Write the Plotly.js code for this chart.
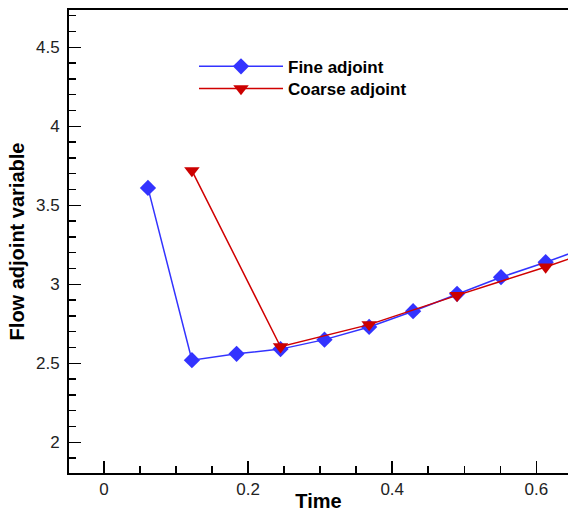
<!DOCTYPE html>
<html>
<head>
<meta charset="utf-8">
<script src="https://cdn.plot.ly/plotly-3.0.1.min.js"></script>
<style>
  html, body { margin: 0; padding: 0; background: #fff; }
  #chart { width: 568px; height: 512px; }
</style>
</head>
<body>
<div id="chart"></div>
<script>
// Time levels and adjoint values for each grid
const fineTime = [0.061, 0.122, 0.184, 0.245, 0.306, 0.368, 0.429, 0.490, 0.551, 0.613, 0.674];
const fineAdjoint = [3.61, 2.52, 2.56, 2.59, 2.65, 2.73, 2.83, 2.94, 3.045, 3.14, 3.24];

const coarseTime = [0.122, 0.245, 0.368, 0.490, 0.613, 0.735];
const coarseAdjoint = [3.72, 2.605, 2.745, 2.93, 3.11, 3.30];

const xTickVals = [0, 0.2, 0.4, 0.6];
const xTickText = ['0', '0.2', '0.4', '0.6'];
const yTickVals = [2, 2.5, 3, 3.5, 4, 4.5];
const yTickText = ['2', '2.5', '3', '3.5', '4', '4.5'];

const font = 'Liberation Sans, Arial, sans-serif';

const traces = [
  {
    x: fineTime, y: fineAdjoint, name: 'Fine adjoint', legend: 'legend',
    type: 'scatter', mode: 'lines+markers',
    line: { color: '#3333ff', width: 1.5 },
    marker: { symbol: 'diamond', size: 12.5, color: '#3333ff' }
  },
  {
    x: coarseTime, y: coarseAdjoint, name: 'Coarse adjoint', legend: 'legend2',
    type: 'scatter', mode: 'lines+markers',
    line: { color: '#d00000', width: 1.5 },
    marker: { symbol: 'triangle-down', size: 13.5, color: '#cc0000' }
  }
];

// one single-entry legend per series so the rows can sit close together
function legendBox(yPos) {
  return {
    x: 0.2505, y: yPos, xanchor: 'left', yanchor: 'middle',
    bgcolor: 'rgba(0,0,0,0)', borderwidth: 0,
    font: { family: font, size: 17, color: '#000', weight: 'bold' },
    itemwidth: 84
  };
}

const layout = {
  width: 568, height: 512,
  margin: { l: 69, r: 0, t: 10, b: 39 },
  paper_bgcolor: '#fff', plot_bgcolor: '#fff',
  font: { family: font, color: '#222', size: 17 },
  showlegend: true,
  legend: legendBox(0.8775),
  legend2: legendBox(0.8294),
  xaxis: {
    range: [-0.0486, 0.644],
    tickmode: 'array', tickvals: xTickVals, ticktext: xTickText,
    ticks: 'inside', ticklen: 12, tickwidth: 1.5, tickcolor: '#000',
    minor: { dtick: 0.05, tick0: 0, ticks: 'inside', ticklen: 7, tickwidth: 1.5, tickcolor: '#000' },
    showline: true, linecolor: '#000', linewidth: 2, mirror: true,
    showgrid: false, zeroline: false,
    tickfont: { family: font, size: 17, color: '#222' },
    title: { text: 'Time', font: { family: font, size: 20, color: '#000', weight: 'bold' }, standoff: 3 }
  },
  yaxis: {
    range: [1.806, 4.736],
    tickmode: 'array', tickvals: yTickVals, ticktext: yTickText,
    ticks: 'inside', ticklen: 12, tickwidth: 1.5, tickcolor: '#000',
    minor: { dtick: 0.1, tick0: 0, ticks: 'inside', ticklen: 7, tickwidth: 1.5, tickcolor: '#000' },
    showline: true, linecolor: '#000', linewidth: 2,
    showgrid: false, zeroline: false,
    ticklabelstandoff: 4,
    tickfont: { family: font, size: 17, color: '#222' },
    title: { text: 'Flow adjoint variable', font: { family: font, size: 20, color: '#000', weight: 'bold' }, standoff: 6 }
  }
};

Plotly.newPlot('chart', traces, layout, { displayModeBar: false, staticPlot: true });
</script>
</body>
</html>
